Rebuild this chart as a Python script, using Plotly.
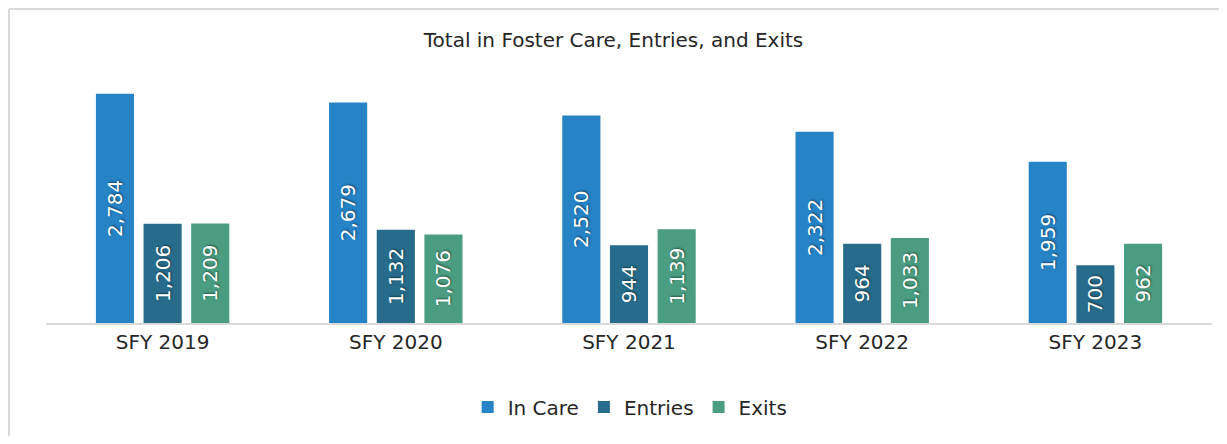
import plotly.graph_objects as go

# Data
years = ["SFY 2019", "SFY 2020", "SFY 2021", "SFY 2022", "SFY 2023"]
in_care = [2784, 2679, 2520, 2322, 1959]
entries = [1206, 1132, 944, 964, 700]
exits = [1209, 1076, 1139, 1033, 962]

series_names = ["In Care", "Entries", "Exits"]
series_colors = ["#2683C6", "#276C8A", "#4A9D80"]

FONT = "DejaVu Sans"

fig = go.Figure()
for name, vals, col in zip(series_names, [in_care, entries, exits], series_colors):
    fig.add_trace(go.Bar(
        x=years, y=vals, name=name, marker_color=col, marker_line_width=0,
        text=[f"{v:,}" for v in vals], textposition="inside", textangle=-90,
        insidetextanchor="middle",
        textfont=dict(family=FONT, size=20, color="white",
                      shadow="1px 1px 2px rgba(0,0,0,0.45)"),
    ))

# page body has an 8px margin, so the figure is drawn at (8, 8)
fig.update_layout(
    width=1211, height=428,
    margin=dict(l=38, r=7, t=68, b=113),
    paper_bgcolor="white", plot_bgcolor="white",
    barmode="group", bargap=0.387, bargroupgap=0.2,
    title=dict(text="Total in Foster Care, Entries, and Exits", x=0.5, xanchor="center",
               y=1 - 32 / 428, yanchor="middle",
               font=dict(family=FONT, size=20, color="#262626")),
    legend=dict(orientation="h", x=0.501, xanchor="center", y=-0.34, yanchor="middle",
                font=dict(family=FONT, size=20, color="#262626"),
                traceorder="normal"),
    xaxis=dict(showline=True, linecolor="#D9D9D9", linewidth=2, ticks="",
               tickfont=dict(family=FONT, size=20, color="#262626")),
    yaxis=dict(range=[0, 3000], visible=False, showgrid=False),
    uniformtext=dict(minsize=20, mode="show"),
)

# chart frame: only the top and left edges show in the crop
frame = dict(color="#D9D9D9", width=2)
fig.add_shape(type="line", xref="paper", yref="paper",
              x0=-37 / 1166, x1=1.0 + 7 / 1166, y0=1 + 67 / 247, y1=1 + 67 / 247, line=frame)
fig.add_shape(type="line", xref="paper", yref="paper",
              x0=-37 / 1166, x1=-37 / 1166, y0=-113 / 247, y1=1 + 67 / 247, line=frame)

fig.write_html("out.html")
